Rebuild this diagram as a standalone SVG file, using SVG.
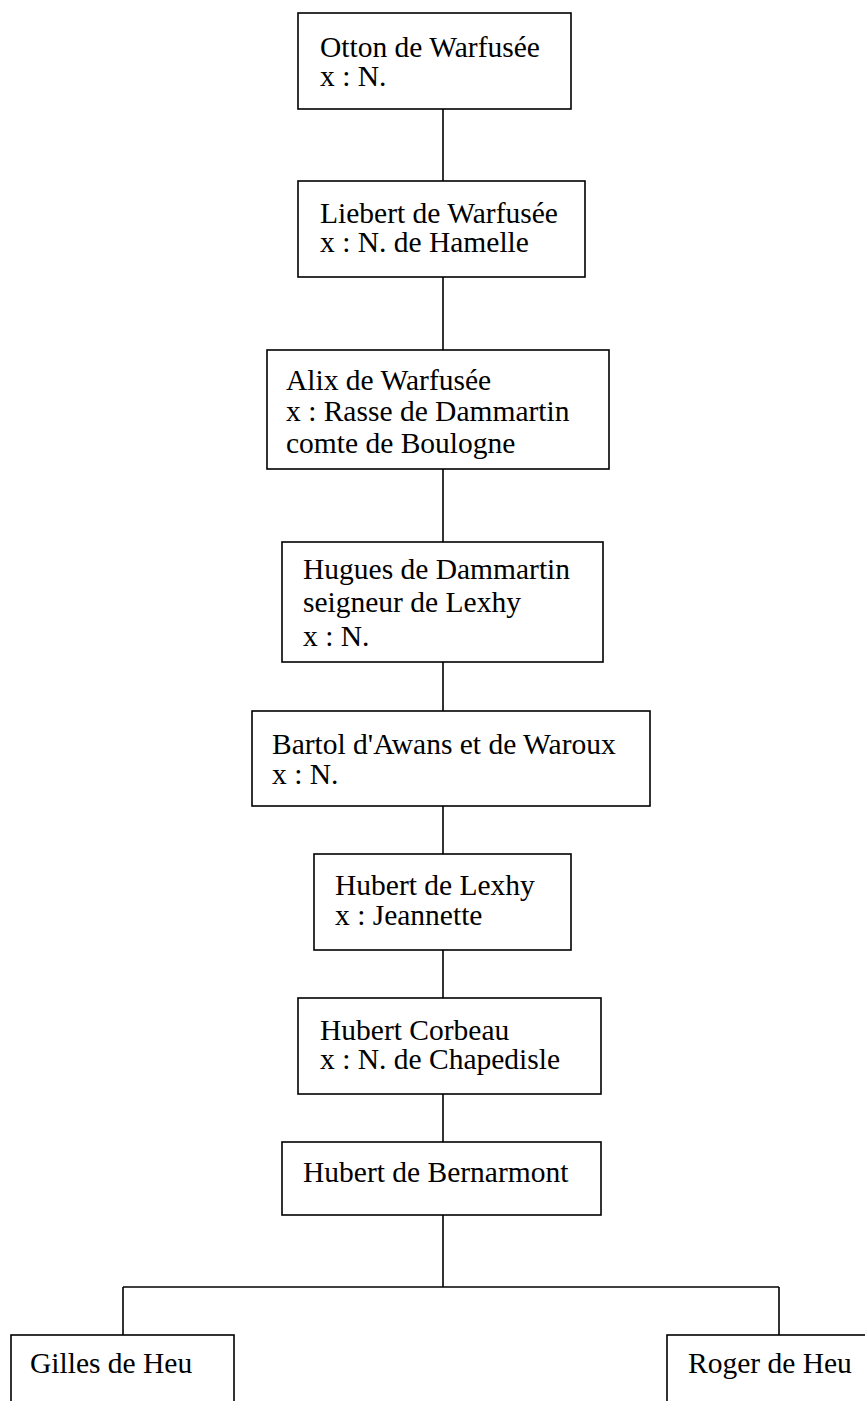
<svg xmlns="http://www.w3.org/2000/svg" width="865" height="1401" viewBox="0 0 865 1401">
<style>
rect{fill:#fff;stroke:#000;stroke-width:1.6}
text{font-family:"Liberation Serif","Times New Roman",serif;font-size:29.5px;fill:#000}
.c line{stroke:#000;stroke-width:1.6}
</style>
<rect x="0" y="0" width="865" height="1401" style="stroke:none"/>
<g class="c" id="connectors">
<line x1="443" y1="109" x2="443" y2="181"/>
<line x1="443" y1="277" x2="443" y2="350"/>
<line x1="443" y1="469" x2="443" y2="542"/>
<line x1="443" y1="662" x2="443" y2="711"/>
<line x1="443" y1="806" x2="443" y2="854"/>
<line x1="443" y1="950" x2="443" y2="998"/>
<line x1="443" y1="1094" x2="443" y2="1142"/>
<line x1="443" y1="1215" x2="443" y2="1287"/>
<line x1="123" y1="1287" x2="779" y2="1287"/>
<line x1="123" y1="1287" x2="123" y2="1335"/>
<line x1="779" y1="1287" x2="779" y2="1335"/>
</g>
<g id="otton"><rect x="298" y="13" width="273" height="96"/><text x="320" y="57">Otton de Warfusée</text><text x="320" y="86">x : N.</text></g>
<g id="liebert"><rect x="298" y="181" width="287" height="96"/><text x="320" y="223">Liebert de Warfusée</text><text x="320" y="252">x : N. de Hamelle</text></g>
<g id="alix"><rect x="267" y="350" width="342" height="119"/><text x="286" y="390">Alix de Warfusée</text><text x="286" y="421">x : Rasse de Dammartin</text><text x="286" y="453">comte de Boulogne</text></g>
<g id="hugues"><rect x="282" y="542" width="321" height="120"/><text x="303" y="579">Hugues de Dammartin</text><text x="303" y="612">seigneur de Lexhy</text><text x="303" y="646">x : N.</text></g>
<g id="bartol"><rect x="252" y="711" width="398" height="95"/><text x="272" y="754">Bartol d'Awans et de Waroux</text><text x="272" y="784">x : N.</text></g>
<g id="hubert-lexhy"><rect x="314" y="854" width="257" height="96"/><text x="335" y="895">Hubert de Lexhy</text><text x="335" y="925">x : Jeannette</text></g>
<g id="hubert-corbeau"><rect x="298" y="998" width="303" height="96"/><text x="320" y="1040">Hubert Corbeau</text><text x="320" y="1069">x : N. de Chapedisle</text></g>
<g id="hubert-bernarmont"><rect x="282" y="1142" width="319" height="73"/><text x="303" y="1182">Hubert de Bernarmont</text></g>
<g id="gilles"><rect x="11" y="1335" width="223" height="90"/><text x="30" y="1373">Gilles de Heu</text></g>
<g id="roger"><rect x="667" y="1335" width="230" height="90"/><text x="688" y="1373">Roger de Heu</text></g>
</svg>
